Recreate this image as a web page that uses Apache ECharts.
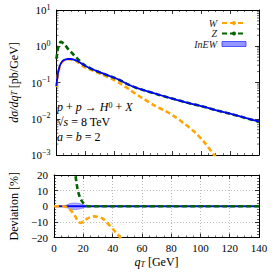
<!DOCTYPE html>
<html><head><meta charset="utf-8">
<script src="https://cdn.jsdelivr.net/npm/echarts@6/dist/echarts.min.js"></script>
<style>html,body{margin:0;padding:0;background:#fff}#c{width:274px;height:274px}</style>
</head><body><div id="c"></div>
<script>
// ---- top panel: dsigma/dqT [pb/GeV] ----
const qInEW = [0,1,2,3,4,5,6,8,10,12,14,16,18,20,24,28,32,36,40,45,50,55,60,70,80,90,100,110,120,130,140];
const valInEW = [0.08,0.17,0.26,0.33,0.38,0.41,0.43,0.445,0.445,0.43,0.40,0.36,0.32,0.285,0.24,0.205,0.178,0.155,0.135,0.11,0.087,0.072,0.062,0.047,0.036,0.028,0.0224,0.0174,0.0138,0.0107,0.0083];
const qW = [0,1,2,3,4,5,6,8,10,12,14,16,18,20,24,28,32,36,40,45,50,55,60,68,75,81,88,95,102,109,114];
const valW = [0.075,0.16,0.25,0.32,0.37,0.40,0.42,0.44,0.435,0.415,0.385,0.335,0.287,0.26,0.223,0.192,0.163,0.139,0.117,0.089,0.066,0.048,0.036,0.023,0.0165,0.012,0.0075,0.0045,0.0023,0.001,0.0006];
const qZ = [0,0.5,1,2,3,4,5,6,8,10,12,14,16,18,20,22,24,28,32,36,40,45,50,55,60,70,80,90,100,110,120,130,140];
const valZ = [0.45,0.62,0.85,1.15,1.32,1.28,1.18,1.08,0.85,0.70,0.58,0.48,0.40,0.335,0.291,0.262,0.24,0.205,0.178,0.155,0.135,0.11,0.087,0.072,0.062,0.047,0.036,0.028,0.0224,0.0174,0.0138,0.0107,0.0083];
// ---- bottom panel: deviation [%] ----
const qDevW = [0,2,4,6,8,10,12,14,16,18,20,22,24,27,30,33,36,40,43,46,50];
const devW = [0,0,0,0,-0.3,-1.5,-3.3,-5.8,-9,-10.7,-9.8,-8.3,-7.3,-6.5,-6.8,-7.8,-10.3,-14.5,-17.5,-21,-27];
const qDevZ = [8,10,12,13,14,14.5,15,16,17,18,19,20,21,22,23,24,30,40,60,80,100,120,140];
const devZ = [70,55,38,30,23,20,17,11,7.5,5,3.3,2,1,0.4,0,0,0,0,0,0,0,0,0];
const qDevInEW = [0,140];
const devInEW = [0,0];
const qBand = [7,9,11,13,15,17,19,21,22.5];
const bandHalf = [0,1.0,1.7,2.0,2.0,1.8,1.3,0.7,0];
// ---- labels ----
const legendNames = ['W','Z','InEW'];
const xTicks = {min:0, max:140, interval:20};
const devTicks = {min:-20, max:20, interval:10};
const logRange = {min:0.001, max:10};

const F = 'Liberation Serif';
const pairs = (xs, ys) => xs.map((x,i)=>[x, ys[i]]);
const minus = s => String(s).replace('-', '\u2212');

const minorLog = [];
for (let e = -3; e < 1; e++) for (let m = 2; m <= 9; m++) minorLog.push([0, m*Math.pow(10,e)]);

const tickBase = {inside:true, length:4, lineStyle:{color:'#000', width:0.8}};
const minorBase = {show:true, length:2, lineStyle:{color:'#000', width:0.6}};
const axLine = {show:true, onZero:false, lineStyle:{color:'#000', width:1}};
const lab = {fontFamily:F, fontSize:11, color:'#000'};

function xAx(grid, pos, labels, extra){
  return Object.assign({type:'value', gridIndex:grid, position:pos, min:xTicks.min, max:xTicks.max, interval:xTicks.interval,
    axisLine:axLine, axisTick:tickBase, minorTick:Object.assign({splitNumber:4}, minorBase),
    axisLabel:{show:labels, ...lab, margin:5}, splitLine:{show:false}}, extra||{});
}

const option = {
  animation:false,
  backgroundColor:'#fff',
  grid:[
    {left:46.5, right:15, top:10, height:145},
    {left:46.5, right:15, top:175, height:62.5}
  ],
  xAxis:[
    xAx(0,'bottom',false),
    xAx(0,'top',false),
    xAx(1,'bottom',true,{name:'{i|q}{sub|T} [GeV]', nameLocation:'middle', nameGap:17,
       nameTextStyle:{fontFamily:F, fontSize:12, color:'#000', rich:{i:{fontFamily:F, fontStyle:'italic', fontSize:12}, sub:{fontFamily:F, fontStyle:'italic', fontSize:8, verticalAlign:'bottom', padding:[6,0,0,0]}}},
       splitLine:{show:true, lineStyle:{color:'#aaa', type:[1,2], width:0.8}}}),
    xAx(1,'top',false)
  ],
  yAxis:[
    {type:'log', gridIndex:0, position:'left', logBase:10, min:logRange.min, max:logRange.max,
     axisLine:axLine, axisTick:tickBase, splitLine:{show:false},
     axisLabel:{...lab, margin:6, formatter:v=>'10{s|'+minus(Math.round(Math.log10(v)))+'}',
       rich:{s:{fontFamily:F, fontSize:8, verticalAlign:'top', padding:[0,0,6,0]}}},
     name:'{i|d\u03c3/dq}{sub|T} [pb/GeV]', nameLocation:'middle', nameRotate:90, nameGap:31,
     nameTextStyle:{fontFamily:F, fontSize:12, color:'#000', rich:{i:{fontFamily:F, fontStyle:'italic', fontSize:12}, sub:{fontFamily:F, fontStyle:'italic', fontSize:8}}}},
    {type:'log', gridIndex:0, position:'right', logBase:10, min:logRange.min, max:logRange.max,
     axisLine:axLine, axisTick:tickBase, splitLine:{show:false}, axisLabel:{show:false}},
    {type:'value', gridIndex:1, position:'left', min:devTicks.min, max:devTicks.max, interval:devTicks.interval,
     axisLine:axLine, axisTick:tickBase, minorTick:Object.assign({splitNumber:5}, minorBase),
     axisLabel:{...lab, margin:6, formatter:v=>minus(v)},
     splitLine:{show:true, lineStyle:{color:'#aaa', type:[1,2], width:0.8}},
     name:'Deviation [%]', nameLocation:'middle', nameRotate:90, nameGap:31,
     nameTextStyle:{fontFamily:F, fontSize:12, color:'#000'}},
    {type:'value', gridIndex:1, position:'right', min:devTicks.min, max:devTicks.max, interval:devTicks.interval,
     axisLine:axLine, axisTick:tickBase, minorTick:Object.assign({splitNumber:5}, minorBase),
     axisLabel:{show:false}, splitLine:{show:false}}
  ],
  legend:{
    data:[
      {name:legendNames[0]},
      {name:legendNames[1]},
      {name:legendNames[2], icon:'rect', itemStyle:{color:'rgba(130,130,255,0.85)', borderColor:'#3333ff', borderWidth:0.8}}
    ],
    orient:'vertical', right:27, top:18, align:'right', itemWidth:24, itemHeight:5, itemGap:0.5, padding:0,
    selectedMode:false,
    textStyle:{fontFamily:F, fontStyle:'italic', fontSize:10, color:'#222', lineHeight:9, padding:[0,0,0,0]}
  },
  graphic:[
    {type:'text', left:57, top:101, style:{text:'{i|p} + {i|p} \u2192 {i|H}{s|0} + {i|X}', fontFamily:F, fontSize:12, fill:'#000',
      rich:{i:{fontFamily:F, fontStyle:'italic', fontSize:12}, s:{fontFamily:F, fontSize:8, verticalAlign:'top'}}}},
    {type:'text', left:57, top:116, style:{text:'\u221a{o|s} = 8 TeV', fontFamily:F, fontSize:12, fill:'#000',
      rich:{o:{fontFamily:F, fontStyle:'italic', fontSize:12}}}},
    {type:'text', left:57, top:131, style:{text:'{i|a} = {i|b} = 2', fontFamily:F, fontSize:12, fill:'#000',
      rich:{i:{fontFamily:F, fontStyle:'italic', fontSize:12}}}}
  ],
  series:[
    {type:'custom', xAxisIndex:0, yAxisIndex:0, silent:true, data:minorLog, clip:false,
     renderItem:(params, api)=>{
       const y = api.coord([0, api.value(1)])[1];
       const cs = params.coordSys;
       return {type:'group', children:[
         {type:'line', shape:{x1:cs.x, y1:y, x2:cs.x+2, y2:y}, style:{stroke:'#000', lineWidth:0.6}},
         {type:'line', shape:{x1:cs.x+cs.width, y1:y, x2:cs.x+cs.width-2, y2:y}, style:{stroke:'#000', lineWidth:0.6}}
       ]};
     }},
    {name:'W', type:'line', xAxisIndex:0, yAxisIndex:0, data:pairs(qW, valW), symbol:'none', smooth:0.3,
     lineStyle:{color:'#FFA500', width:2.6, type:[5,3]}, itemStyle:{color:'#FFA500'}},
    {name:'Z', type:'line', xAxisIndex:0, yAxisIndex:0, data:pairs(qZ, valZ), symbol:'none', smooth:0.3,
     lineStyle:{color:'#006400', width:2.6, type:[5,3]}, itemStyle:{color:'#006400'}},
    {name:'InEW', type:'line', xAxisIndex:0, yAxisIndex:0, data:pairs(qInEW, valInEW), symbol:'none', smooth:0.3,
     lineStyle:{color:'#0000FF', width:1.8}, itemStyle:{color:'#0000FF'}},
    // bottom panel
    {name:'InEW', type:'line', xAxisIndex:2, yAxisIndex:2, data:pairs(qBand, bandHalf), symbol:'none', smooth:0.4,
     lineStyle:{color:'#5555ff', width:0.6}, areaStyle:{color:'rgba(120,120,255,0.75)', origin:0}},
    {name:'InEW', type:'line', xAxisIndex:2, yAxisIndex:2, data:pairs(qBand, bandHalf.map(h=>-h)), symbol:'none', smooth:0.4,
     lineStyle:{color:'#5555ff', width:0.6}, areaStyle:{color:'rgba(120,120,255,0.75)', origin:0}},
    {name:'InEW', type:'line', xAxisIndex:2, yAxisIndex:2, data:pairs(qDevInEW, devInEW), symbol:'none',
     lineStyle:{color:'#0000FF', width:1.8}},
    {name:'W', type:'line', xAxisIndex:2, yAxisIndex:2, data:pairs(qDevW, devW), symbol:'none', smooth:0.3,
     lineStyle:{color:'#FFA500', width:2.6, type:[5,3]}},
    {name:'Z', type:'line', xAxisIndex:2, yAxisIndex:2, data:pairs(qDevZ, devZ), symbol:'none', smooth:0.3,
     lineStyle:{color:'#006400', width:2.6, type:[5,3]}}
  ]
};
const chart = echarts.init(document.getElementById('c'), null, {renderer:'svg'});
chart.setOption(option);
</script></body></html>
